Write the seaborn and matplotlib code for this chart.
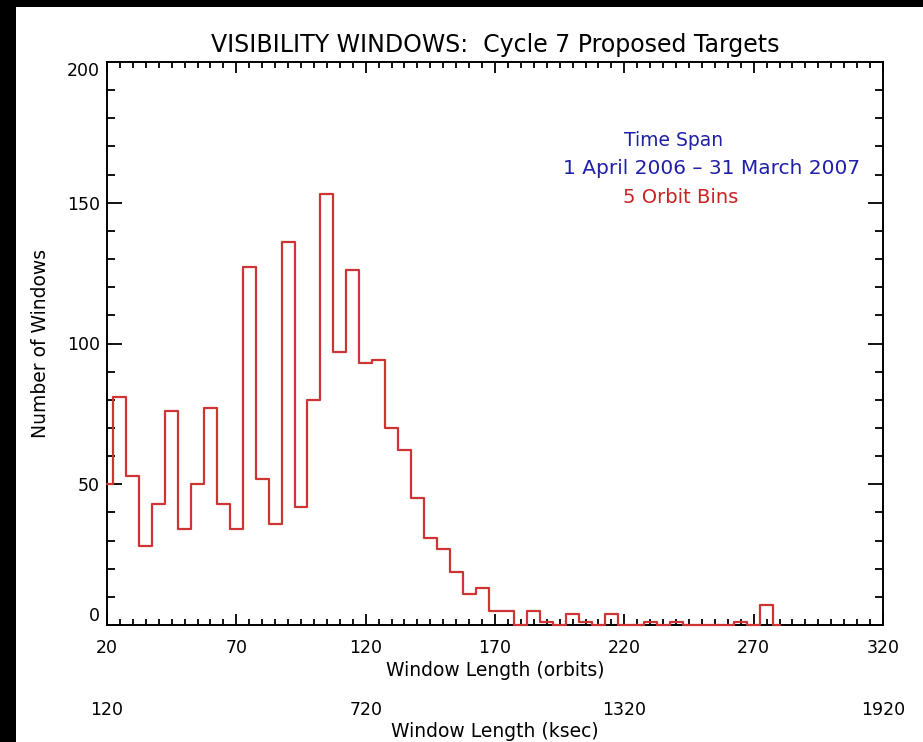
import numpy as np
import pandas as pd
import matplotlib
matplotlib.use("Agg")
import matplotlib.pyplot as plt
import seaborn as sns
from matplotlib.patches import Rectangle
from matplotlib.ticker import FixedLocator

# ---- data (5-orbit bins, centers in orbits) ----
bin_centers = list(range(20, 285, 5))
counts = [50, 81, 53, 28, 43, 76, 34, 50, 77, 43,
          34, 127, 52, 36, 136, 42, 80, 153, 97, 126,
          93, 94, 70, 62, 45, 31, 27, 19, 11, 13,
          5, 5, 0, 5, 1, 0, 4, 1, 0, 4,
          0, 0, 1, 0, 1, 0, 0, 0, 0, 1,
          0, 7, 0]
x_ticks_orbits = [20, 70, 120, 170, 220, 270, 320]
x_ticks_ksec = [120, 720, 1320, 1920]
y_ticks = [0, 50, 100, 150, 200]

sns.set_style("ticks")
plt.rcParams['font.family'] = ['DejaVu Sans']
plt.rcParams['text.color'] = 'black'
plt.rcParams['axes.labelcolor'] = 'black'

W, H = 923, 742
fig = plt.figure(figsize=(W / 100, H / 100), dpi=100, facecolor='black')
fig.add_artist(Rectangle((16 / W, 0), 1, (H - 7) / H, transform=fig.transFigure,
                         facecolor='white', edgecolor='none', zorder=-5))

L, R, T, B = 107, 883, 62, 625
ax = fig.add_axes([L / W, (H - B) / H, (R - L) / W, (B - T) / H])
ax.set_facecolor('white')

df = pd.DataFrame({"orbits": bin_centers, "count": counts})
sns.lineplot(data=df, x="orbits", y="count", drawstyle="steps-mid",
             color="#cf3434", lw=1.6, ax=ax, estimator=None,
             clip_on=False, zorder=3)

ax.set_xlim(20, 320)
ax.set_ylim(0, 200)
ax.xaxis.set_major_locator(FixedLocator(x_ticks_orbits))
ax.xaxis.set_minor_locator(FixedLocator(list(range(20, 321, 5))))
ax.yaxis.set_major_locator(FixedLocator(y_ticks))
ax.yaxis.set_minor_locator(FixedLocator(list(range(0, 201, 10))))
ax.set_xticklabels([str(v) for v in x_ticks_orbits])
ax.set_yticklabels([str(v) for v in y_ticks])

for s in ax.spines.values():
    s.set_linewidth(1.4)
    s.set_color('black')
    s.set_visible(True)

ax.tick_params(which='both', direction='in', top=True, right=True,
               width=1.3, color='black', labelsize=12.5, labelcolor='black')
ax.tick_params(axis='x', which='major', length=8, pad=10)
ax.tick_params(axis='x', which='minor', length=4)
ax.tick_params(axis='y', which='major', length=11, pad=5)
ax.tick_params(axis='y', which='minor', length=5.5)

ylabs = ax.get_yticklabels()
ylabs[0].set_va('bottom')
ylabs[-1].set_va('top')

ax.set_xlabel("Window Length (orbits)", fontsize=13.5, labelpad=3)
ax.set_ylabel("Number of Windows", fontsize=13.5, labelpad=12)
ax.set_title("VISIBILITY WINDOWS:  Cycle 7 Proposed Targets", fontsize=17, pad=7)

sec = ax.secondary_xaxis(-0.13, functions=(lambda x: x * 6, lambda x: x / 6))
sec.xaxis.set_major_locator(FixedLocator(x_ticks_ksec))
sec.set_xticklabels([str(v) for v in x_ticks_ksec])
sec.spines['bottom'].set_visible(False)
sec.tick_params(axis='x', which='both', length=0, pad=2, labelsize=12.5,
                labelcolor='black')
sec.set_xlabel("Window Length (ksec)", fontsize=13.5, labelpad=2)

ax.text(239.2, 172, "Time Span", color="#1f1fa8", fontsize=13.5,
        ha='center', va='center')
ax.text(253.9, 162.3, "1 April 2006 \u2013 31 March 2007", color="#1f1fa8",
        fontsize=14.5, ha='center', va='center')
ax.text(241.9, 152, "5 Orbit Bins", color="#cc2222", fontsize=14,
        ha='center', va='center')

fig.savefig("out.png", dpi=100, facecolor=fig.get_facecolor())
